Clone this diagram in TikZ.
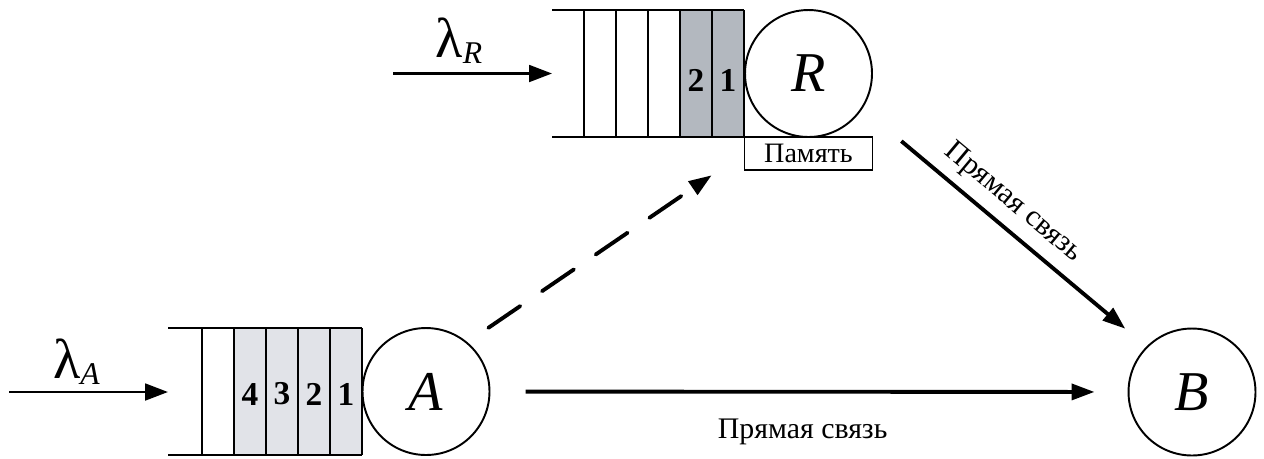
\documentclass[tikz,border=0pt]{standalone}
\usepackage{fontspec}
\setmainfont{Liberation Serif}
\usetikzlibrary{arrows.meta}
\definecolor{qdark}{HTML}{B3B8BF}
\definecolor{qlight}{HTML}{E1E3E8}
\def\lamsub#1{λ\raisebox{-3.7pt}{\fontsize{18}{20}\selectfont\itshape #1}}

\begin{document}
\begin{tikzpicture}[x=0.02cm, y=-0.02cm,
  srv/.style={circle, draw, line width=1.1pt, minimum size=2.54cm,
              inner sep=0pt, font=\fontsize{32}{36}\selectfont\itshape},
  qline/.style={line width=1.1pt},
  num/.style={font=\fontsize{19}{21}\selectfont\bfseries, inner sep=0pt},
  lam/.style={font=\fontsize{32}{36}\selectfont, inner sep=0pt},
  lbl/.style={font=\fontsize{17}{20}\selectfont, inner sep=0pt},
  arr/.style={-{Triangle[length=13pt, width=9pt]}, line width=2.2pt},
  inarr/.style={-{Triangle[length=13pt, width=9.5pt]}, line width=1.5pt},
  dsh/.style={dash pattern=on 22pt off 15pt, line cap=round}
]
\useasboundingbox (0,0) rectangle (1264,458);

% === servers (1 px = 0.02 cm, y grows downwards) ===
\node[srv] (A) at (426,391.5) {A};
\node[srv] (R) at (808.5,73.5) {R};
\node[srv] (B) at (1192,392) {B};

% === memory under R ===
\node[draw, qline, minimum width=2.56cm, minimum height=0.66cm,
      inner sep=0pt, font=\fontsize{16}{18}\selectfont]
  (mem) at (808.5,153.5) {Память};

% === queue of A: stub 168..202, cells of 32 px up to the circle ===
\fill[qlight] (234,328) rectangle (362,455);
\draw[qline] (168,328) -- (362,328) (168,455) -- (362,455);
\foreach \x in {202,234,...,362}
  \draw[qline] (\x,328) -- (\x,455);
\foreach \n/\x in {4/250,3/282,2/314,1/346}
  \node[num] (a\n) at (\x,394) {\n};

% === queue of R: same layout, two busy cells ===
\fill[qdark] (680,10) rectangle (744,137);
\draw[qline] (552,10) -- (744,10) (552,137) -- (744,137);
\foreach \x in {584,616,...,744}
  \draw[qline] (\x,10) -- (\x,137);
\foreach \n/\x in {2/696,1/728}
  \node[num] (r\n) at (\x,80) {\n};

% === incoming flows ===
\coordinate (inA) at (9,392);
\coordinate (qA) at (168,392);
\coordinate (inR) at (393,73.5);
\coordinate (qR) at (552,73.5);
\draw[inarr] (inA) -- (qA);
\draw[inarr] (inR) -- (qR);
\node[lam, anchor=base] (lamA) at (76.5,378) {\lamsub{A}};
\node[lam, anchor=base] (lamR) at (459,57) {\lamsub{R}};

% === links ===
\draw[arr, shorten <=20pt, shorten >=18.8pt] (A) -- (B)
  node[lbl, pos=0.49, below=14.5pt] (lblAB) {Прямая связь};
\draw[arr, shorten <=28.8pt, shorten >=15.7pt] (R.-33) -- (B.135)
  node[lbl, pos=0.475, sloped, above=5.5pt] (lblRB) {Прямая связь};
\draw[arr, dsh, shorten <=14.4pt, shorten >=22pt] (A.50) -- (mem.west);

\end{tikzpicture}
\end{document}
